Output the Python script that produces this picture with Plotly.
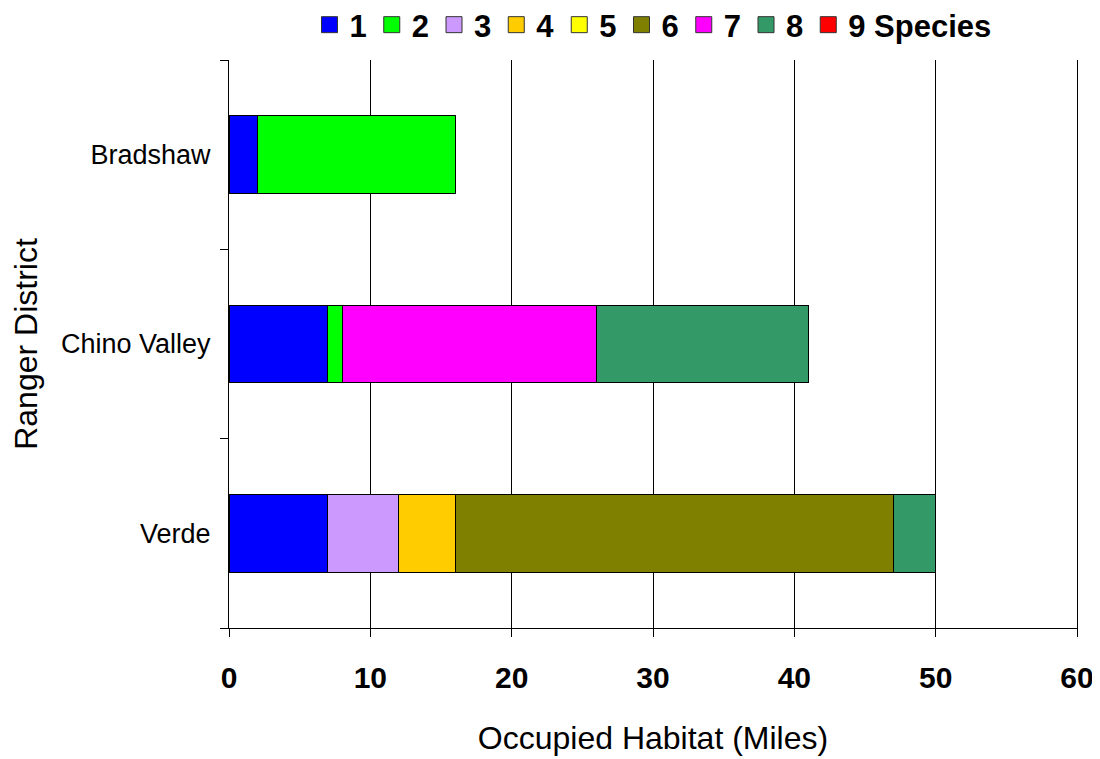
import plotly.graph_objects as go

districts = ["Bradshaw", "Chino Valley", "Verde"]
species_labels = ["1", "2", "3", "4", "5", "6", "7", "8", "9 Species"]
colors = ["#0000FF", "#00FF00", "#CC99FF", "#FFCC00", "#FFFF00", "#808000", "#FF00FF", "#339966", "#FF0000"]

s1 = [2, 7, 7]
s2 = [14, 1, 0]
s3 = [0, 0, 5]
s4 = [0, 0, 4]
s5 = [0, 0, 0]
s6 = [0, 0, 31]
s7 = [0, 18, 0]
s8 = [0, 15, 3]
s9 = [0, 0, 0]
series = [s1, s2, s3, s4, s5, s6, s7, s8, s9]

x_ticks = [0, 10, 20, 30, 40, 50, 60]

font_family = "Liberation Sans, Arial, sans-serif"

fig = go.Figure()
for lab, col, vals in zip(species_labels, colors, series):
    fig.add_trace(go.Bar(
        y=districts, x=vals, orientation="h", name=lab,
        marker=dict(color=col, line=dict(color="black", width=1)),
        showlegend=False, legendgroup=lab,
    ))
# legend entries with larger square swatches
for lab, col in zip(species_labels, colors):
    fig.add_trace(go.Scatter(
        x=[None], y=[None], mode="markers", name=lab, legendgroup=lab,
        marker=dict(symbol="square", size=16, color=col, line=dict(color="#333333", width=1)),
        showlegend=True,
    ))

fig.update_layout(
    barmode="stack",
    bargap=0.59,
    width=1092, height=751,
    margin=dict(l=221, r=23, t=52, b=131, autoexpand=False),
    plot_bgcolor="white", paper_bgcolor="white",
    font=dict(family=font_family, color="black"),
    showlegend=True,
    legend=dict(
        orientation="h", x=0.5, xanchor="center", y=1.0616, yanchor="middle",
        font=dict(size=31, family=font_family, weight="bold"),
        traceorder="normal", itemwidth=30, itemsizing="trace",
        bgcolor="rgba(0,0,0,0)",
    ),
    xaxis=dict(
        range=[0, 60], tickvals=x_ticks, showgrid=True, gridcolor="black", gridwidth=1,
        showline=True, linecolor="black", linewidth=1,
        ticks="outside", ticklen=8, tickcolor="black", ticklabelstandoff=15,
        tickfont=dict(size=30, family=font_family, weight="bold"),
        title=dict(text="Occupied Habitat (Miles)", font=dict(size=32), standoff=33),
        zeroline=False,
    ),
    yaxis=dict(
        categoryorder="array", categoryarray=districts[::-1],
        showline=True, linecolor="black", linewidth=1, mirror=True,
        ticks="outside", ticklen=8, tickcolor="black", tickson="boundaries",
        ticklabelstandoff=12,
        tickfont=dict(size=27), showgrid=False,
        title=dict(text="Ranger District", font=dict(size=32), standoff=17),
    ),
)

fig.write_html("out.html")
